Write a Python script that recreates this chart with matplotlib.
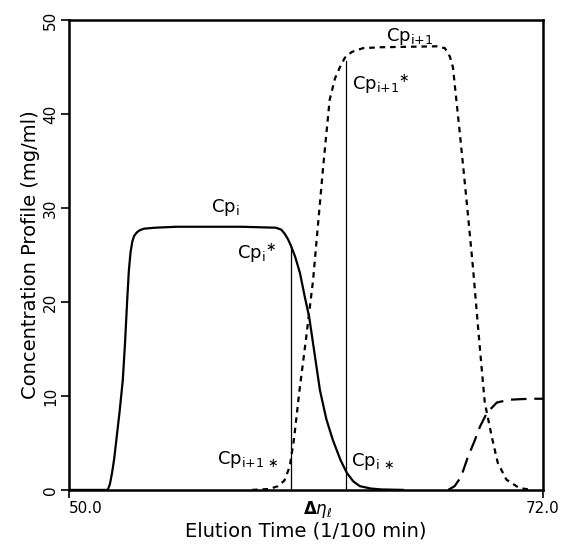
import matplotlib
matplotlib.use('Agg')
import matplotlib.pyplot as plt

# Cp_i (solid)
x_i = [50.0, 51.8, 51.9, 52.0, 52.1, 52.2, 52.35, 52.5, 52.6, 52.7, 52.78, 52.86, 52.94,
       53.02, 53.15, 53.3, 53.5, 54.0, 55.0, 58.0, 59.6, 59.85, 60.0, 60.16, 60.3, 60.5,
       60.72, 60.95, 61.15, 61.4, 61.65, 61.95, 62.25, 62.6, 62.9, 63.2, 63.5, 64.0, 64.5, 65.5]
y_i = [0.0, 0.0, 0.6, 1.8, 3.3, 5.3, 8.3, 11.7, 15.5, 20.0, 23.3, 25.3, 26.4,
       27.0, 27.4, 27.65, 27.8, 27.9, 28.0, 28.0, 27.9, 27.7, 27.3, 26.7, 26.0, 24.8,
       23.1, 20.5, 18.4, 14.5, 10.6, 7.5, 5.3, 3.2, 1.8, 0.9, 0.4, 0.15, 0.05, 0.0]

# Cp_i+1 (short dashes)
x_i1 = [58.5, 59.3, 59.7, 60.0, 60.25, 60.45, 60.7, 61.0, 61.33, 61.55, 61.8, 62.1, 62.35,
        62.58, 62.81, 63.13, 63.64, 64.43, 67.08, 67.45, 67.68, 67.82, 68.14, 68.45, 68.75,
        68.95, 69.16, 69.3, 69.63, 69.9, 70.3, 70.9, 71.5]
y_i1 = [0.0, 0.1, 0.4, 1.0, 2.5, 5.5, 10.6, 16.0, 22.3, 28.0, 34.4, 41.5, 43.8,
        45.0, 46.0, 46.6, 47.0, 47.1, 47.2, 47.0, 46.1, 45.0, 38.0, 30.9, 23.7,
        18.3, 12.8, 9.3, 5.6, 2.9, 1.1, 0.2, 0.0]

# Cp_i+2 (long dashes)
x_i2 = [67.6, 67.9, 68.2, 68.5, 68.84, 69.07, 69.4, 69.86, 70.46, 71.4, 72.0]
y_i2 = [0.0, 0.4, 1.4, 3.4, 5.3, 6.7, 8.2, 9.3, 9.6, 9.7, 9.7]

# cut positions and heights
cut_x = [60.3, 62.84]
cut_top = [26.0, 45.6]

fig = plt.figure(figsize=(5.65, 5.48), dpi=100)
ax = fig.add_axes([0.122, 0.106, 0.839, 0.8575])

ax.plot(x_i, y_i, color='black', lw=1.6)
ax.plot(x_i1, y_i1, color='black', lw=1.6, dashes=(2.5, 2.2))
ax.plot(x_i2, y_i2, color='black', lw=1.6, dashes=(7, 3.5))
for cx, ct in zip(cut_x, cut_top):
    ax.plot([cx, cx], [0, ct], color='black', lw=0.9)

fs = 13
ax.text(57.24, 30.0, r'$\mathrm{Cp}_{\mathrm{i}}$', fontsize=fs, ha='center', va='center')
ax.text(58.7, 25.2, r'$\mathrm{Cp}_{\mathrm{i}}{}^{\ast}$', fontsize=fs, ha='center', va='center')
ax.text(65.8, 48.2, r'$\mathrm{Cp}_{\mathrm{i{+}1}}$', fontsize=fs, ha='center', va='center')
ax.text(64.5, 43.2, r'$\mathrm{Cp}_{\mathrm{i{+}1}}{}^{\ast}$', fontsize=fs, ha='center', va='center')
ax.text(58.3, 3.2, r'$\mathrm{Cp}_{\mathrm{i{+}1}\,\ast}$', fontsize=fs, ha='center', va='center')
ax.text(64.1, 3.0, r'$\mathrm{Cp}_{\mathrm{i}\,\ast}$', fontsize=fs, ha='center', va='center')

ax.set_xlim(50, 72)
ax.set_ylim(0, 50)
ax.set_xticks([50, 72])
ax.set_xticklabels(['50.0', '72.0'])
ax.set_yticks([0, 10, 20, 30, 40, 50])
ax.tick_params(axis='both', direction='out', length=6, width=1.2, labelsize=11, pad=2)
ax.tick_params(axis='y', labelrotation=90)
for lab in ax.get_yticklabels():
    lab.set_va('center')
ax.get_xticklabels()[0].set_ha('left')
ax.text(61.55, -2.1, r'$\mathbf{\Delta}\eta_{\ell}$', fontsize=12, ha='center', va='center')

for s in ax.spines.values():
    s.set_linewidth(1.8)

ax.set_xlabel('Elution Time (1/100 min)', fontsize=14, labelpad=4)
ax.set_ylabel('Concentration Profile (mg/ml)', fontsize=14, labelpad=2)

fig.savefig('out.png', dpi=100)
